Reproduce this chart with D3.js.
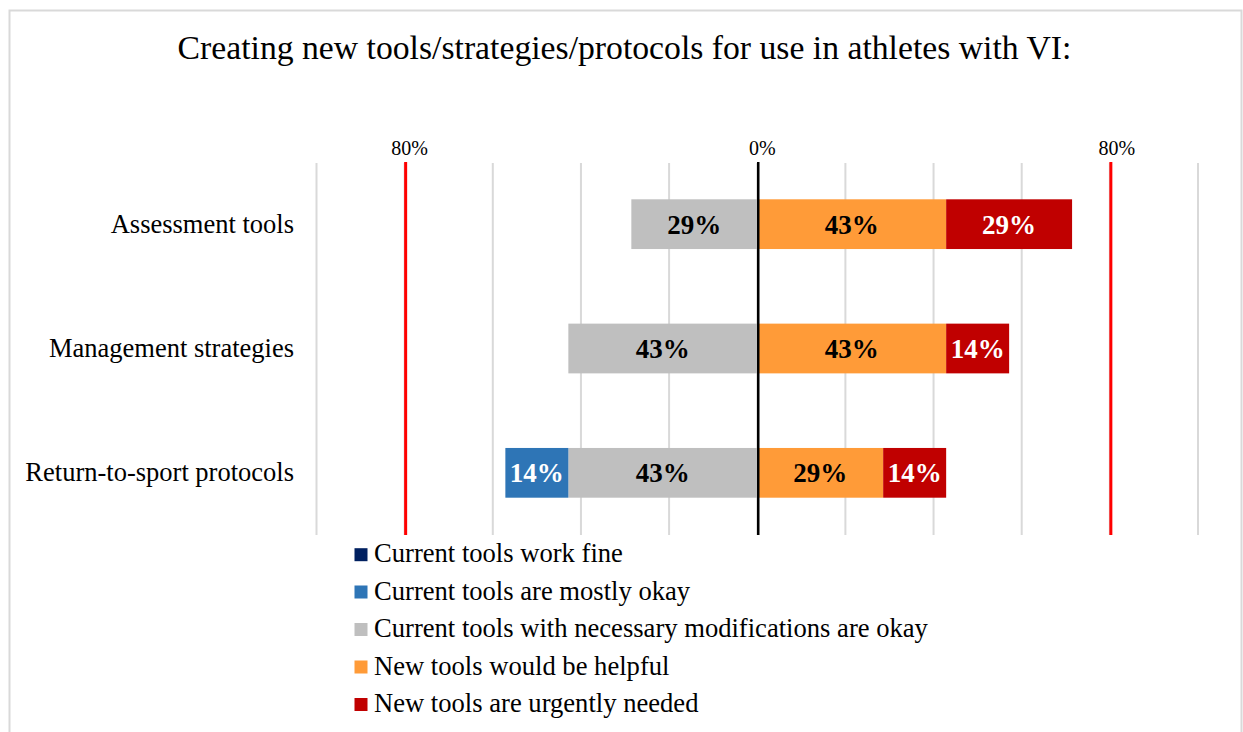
<!DOCTYPE html>
<html>
<head>
<meta charset="utf-8">
<script src="https://cdn.jsdelivr.net/npm/d3@7"></script>
<style>
  body { margin: 0; background: #fff; }
  svg { display: block; font-family: "Liberation Serif", "Times New Roman", serif; }
</style>
</head>
<body>
<svg id="chart" width="1243" height="732"></svg>
<script>
const categories = ["Assessment tools", "Management strategies", "Return-to-sport protocols"];
const seriesNames = [
  "Current tools work fine",
  "Current tools are mostly okay",
  "Current tools with necessary modifications are okay",
  "New tools would be helpful",
  "New tools are urgently needed"
];
const workFine        = [0, 0, 0];
const mostlyOkay      = [0, 0, 14.29];
const withMods        = [28.57, 42.86, 42.86];
const wouldBeHelpful  = [42.86, 42.86, 28.57];
const urgentlyNeeded  = [28.57, 14.29, 14.29];
const seriesColors = ["#002060", "#2E75B6", "#BFBFBF", "#FF9B38", "#C00000"];
const labelColors  = ["#ffffff", "#ffffff", "#000000", "#000000", "#ffffff"];
const refLines = [-80, 0, 80];
const refLabels = ["80%", "0%", "80%"];
const gridTicks = [-100, -80, -60, -40, -20, 0, 20, 40, 60, 80, 100];
const title = "Creating new tools/strategies/protocols for use in athletes with VI:";

const svg = d3.select("#chart");

// chart border
svg.append("rect").attr("x", 9.5).attr("y", 10.5).attr("width", 1232).attr("height", 740)
  .attr("fill", "none").attr("stroke", "#d9d9d9").attr("stroke-width", 2);

svg.append("text").attr("x", 624.5).attr("y", 59).attr("text-anchor", "middle")
  .attr("font-size", 33.7).attr("fill", "#000").text(title);

const x = d3.scaleLinear().domain([-100, 100]).range([316.5, 1198]);
const y = d3.scaleBand().domain(categories).range([162, 535]).paddingInner(0.6).paddingOuter(0.3);
const plotTop = 162, plotBottom = 535;

// gridlines
svg.append("g").selectAll("line").data(gridTicks).join("line")
  .attr("x1", d => x(d)).attr("x2", d => x(d))
  .attr("y1", plotTop + 1).attr("y2", plotBottom)
  .attr("stroke", "#d9d9d9").attr("stroke-width", 2);

// build segments
const allSeries = [workFine, mostlyOkay, withMods, wouldBeHelpful, urgentlyNeeded];
const segs = [];
categories.forEach((c, i) => {
  let left = 0;
  [2, 1, 0].forEach(s => {
    const v = allSeries[s][i];
    if (v > 0) segs.push({cat: c, s, x0: -(left + v), x1: -left, v});
    left += v;
  });
  let right = 0;
  [3, 4].forEach(s => {
    const v = allSeries[s][i];
    if (v > 0) segs.push({cat: c, s, x0: right, x1: right + v, v});
    right += v;
  });
});

svg.append("g").selectAll("rect").data(segs).join("rect")
  .attr("x", d => x(d.x0)).attr("width", d => x(d.x1) - x(d.x0))
  .attr("y", d => y(d.cat)).attr("height", y.bandwidth())
  .attr("fill", d => seriesColors[d.s]);

svg.append("g").selectAll("text").data(segs).join("text")
  .attr("x", d => (x(d.x0) + x(d.x1)) / 2)
  .attr("y", d => y(d.cat) + y.bandwidth() / 2 + 9.5)
  .attr("text-anchor", "middle").attr("font-size", 27).attr("font-weight", "bold")
  .attr("fill", d => labelColors[d.s])
  .text(d => Math.round(d.v) + "%");

// reference lines
svg.append("g").selectAll("line").data(refLines).join("line")
  .attr("x1", d => x(d) + 1).attr("x2", d => x(d) + 1)
  .attr("y1", plotTop).attr("y2", plotBottom)
  .attr("stroke", d => d === 0 ? "#000" : "#FF0000")
  .attr("stroke-width", d => d === 0 ? 2.5 : 3);

svg.append("g").selectAll("text").data(refLines).join("text")
  .attr("x", (d, i) => x(d) + 5 + (i === 2 ? 2 : 0)).attr("y", 155)
  .attr("text-anchor", "middle").attr("font-size", 20).attr("fill", "#000")
  .text((d, i) => refLabels[i]);

// category labels
svg.append("g").selectAll("text").data(categories).join("text")
  .attr("x", 294).attr("y", d => y(d) + y.bandwidth() / 2 + 8.5)
  .attr("text-anchor", "end").attr("font-size", 26.5).attr("fill", "#000")
  .text(d => d);

// legend
const legY = [554.7, 592, 629.5, 667, 704.5];
const leg = svg.append("g").selectAll("g").data(seriesNames).join("g")
  .attr("transform", (d, i) => `translate(354.5, ${legY[i]})`);
leg.append("rect").attr("x", 0).attr("y", -6.5).attr("width", 13).attr("height", 13)
  .attr("fill", (d, i) => seriesColors[i]);
leg.append("text").attr("x", 19.5).attr("y", 7.5).attr("font-size", 26.6).attr("fill", "#000")
  .text(d => d);
</script>
</body>
</html>
